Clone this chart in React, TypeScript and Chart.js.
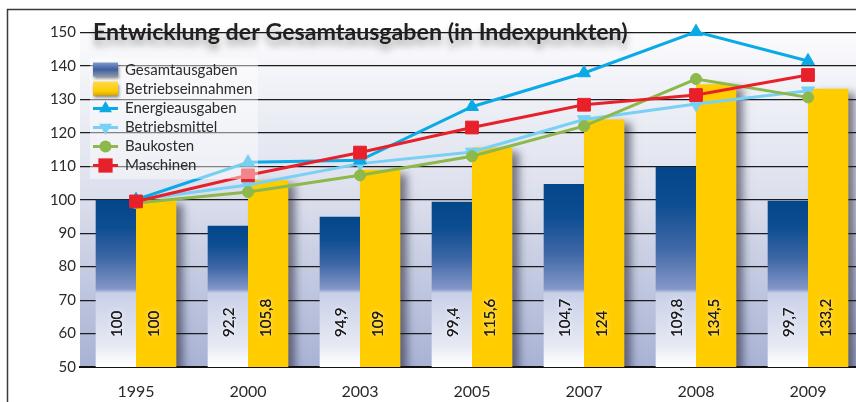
import React, { useEffect, useRef } from 'react';
import { Chart, registerables } from 'chart.js';

Chart.register(...registerables);

const categories = ['1995', '2000', '2003', '2005', '2007', '2008', '2009'];
const gesamtausgaben = [100, 92.2, 94.9, 99.4, 104.7, 109.8, 99.7];
const betriebseinnahmen = [100, 105.8, 109, 115.6, 124, 134.5, 133.2];
const energieausgaben = [100, 111.2, 111.8, 127.8, 137.9, 150.2, 141.5];
const betriebsmittel = [100, 104.4, 110.8, 114.3, 124, 128.6, 132.6];
const baukosten = [99, 102.3, 107.3, 113, 122, 136.1, 130.6];
const maschinen = [99.5, 107.3, 114.1, 121.6, 128.4, 131.3, 137.3];
const yMin = 50;
const yMax = 150;
const yStep = 10;
const titleText = 'Entwicklung der Gesamtausgaben (in Indexpunkten)';

const FONT = 'Lato, "Open Sans", sans-serif';

function fmt(v: number) {
  return String(v).replace('.', ',');
}

function drawMarker(ctx: CanvasRenderingContext2D, style: string, rotation: number, x: number, y: number, r: number, color: string) {
  ctx.save();
  ctx.fillStyle = color;
  ctx.beginPath();
  if (style === 'triangle') {
    const s = rotation === 180 ? -1 : 1;
    ctx.moveTo(x, y - s * r);
    ctx.lineTo(x + r * 0.866, y + s * r / 2);
    ctx.lineTo(x - r * 0.866, y + s * r / 2);
    ctx.closePath();
  } else if (style === 'circle') {
    ctx.arc(x, y, r * 0.8, 0, Math.PI * 2);
  } else {
    const h = r * 0.95;
    ctx.rect(x - h, y - h, 2 * h, 2 * h);
  }
  ctx.fill();
  ctx.restore();
}

const decoPlugin = {
  id: 'deco',
  beforeDraw(chart: any) {
    const { ctx, chartArea: a, width, height } = chart;
    ctx.save();
    ctx.fillStyle = '#ffffff';
    ctx.fillRect(0, 0, width, height);
    const g = ctx.createLinearGradient(0, a.top, 0, a.bottom);
    g.addColorStop(0, '#fbfbfd');
    g.addColorStop(0.45, '#dfe2ee');
    g.addColorStop(1, '#a8b2d4');
    ctx.fillStyle = g;
    ctx.fillRect(a.left, a.top, a.right - a.left, a.bottom - a.top);
    ctx.strokeStyle = '#3a3a3a';
    ctx.lineWidth = 1.5;
    ctx.beginPath();
    ctx.moveTo(7.5, height + 5);
    ctx.lineTo(7.5, 9.5);
    ctx.lineTo(width + 5, 9.5);
    ctx.stroke();
    ctx.restore();
  },
  beforeDatasetDraw(chart: any, args: any) {
    const ds = chart.data.datasets[args.index];
    if (ds.type === 'bar') {
      const ctx = chart.ctx;
      ctx.save();
      if (args.index === 1) {
        ctx.shadowColor = 'rgba(30,30,50,0.55)';
        ctx.shadowBlur = 8;
        ctx.shadowOffsetX = 7;
        ctx.shadowOffsetY = 4;
      }
    }
  },
  afterDatasetDraw(chart: any, args: any) {
    const ds = chart.data.datasets[args.index];
    if (ds.type === 'bar') chart.ctx.restore();
  },
  afterDatasetsDraw(chart: any) {
    const { ctx, chartArea: a } = chart;
    // value labels inside bars
    chart.data.datasets.forEach((ds: any, i: number) => {
      if (ds.type !== 'bar') return;
      const meta = chart.getDatasetMeta(i);
      meta.data.forEach((el: any, j: number) => {
        const { x } = el.getProps(['x'], true);
        ctx.save();
        ctx.translate(x + (i === 1 ? -2 : 1), a.bottom - 30);
        ctx.rotate(-Math.PI / 2);
        ctx.font = `15px ${FONT}`;
        ctx.textAlign = 'left';
        ctx.textBaseline = 'middle';
        ctx.shadowColor = i === 1 ? 'rgba(255,250,220,0.95)' : 'rgba(255,255,255,0.95)';
        ctx.shadowBlur = 5;
        ctx.fillStyle = '#1e1e1e';
        ctx.fillText(fmt(ds.data[j]), 0, 0);
        ctx.shadowBlur = 0;
        ctx.fillText(fmt(ds.data[j]), 0, 0);
        ctx.restore();
      });
    });

    // legend
    ctx.save();
    ctx.fillStyle = 'rgba(255,255,255,0.45)';
    ctx.fillRect(90, 58, 168, 121);
    const rowY0 = 70.5;
    const rowStep = 19;
    chart.data.datasets.forEach((ds: any, i: number) => {
      const y = rowY0 + i * rowStep;
      if (ds.type === 'bar') {
        ctx.save();
        ctx.shadowColor = 'rgba(0,0,0,0.45)';
        ctx.shadowBlur = 3;
        ctx.shadowOffsetX = 1;
        ctx.shadowOffsetY = 2;
        let fill: any;
        if (i === 0) {
          fill = ctx.createLinearGradient(0, y - 8, 0, y + 6);
          fill.addColorStop(0, '#7c98d0');
          fill.addColorStop(0.5, '#3f5f9e');
          fill.addColorStop(1, '#8a94ad');
        } else {
          fill = ctx.createLinearGradient(0, y - 8, 0, y + 6);
          fill.addColorStop(0, '#ffd84a');
          fill.addColorStop(0.7, '#ffcc00');
          fill.addColorStop(1, '#d9a800');
        }
        ctx.fillStyle = fill;
        ctx.fillRect(93, y - 8, 25, 14);
        ctx.restore();
      } else {
        ctx.strokeStyle = ds.borderColor;
        ctx.lineWidth = 3;
        ctx.beginPath();
        ctx.moveTo(93, y);
        ctx.lineTo(118, y);
        ctx.stroke();
        drawMarker(ctx, ds.pointStyle, ds.pointRotation || 0, 105.5, y, 7.5, ds.borderColor);
      }
      ctx.font = `15px ${FONT}`;
      ctx.fillStyle = '#2b2b2b';
      ctx.textAlign = 'left';
      ctx.textBaseline = 'middle';
      ctx.fillText(ds.label, 125, y);
    });
    ctx.restore();

    // title
    ctx.save();
    let size = 22;
    ctx.font = `700 ${size}px ${FONT}`;
    const w = ctx.measureText(titleText).width;
    size = Math.min(24, size * 535 / w);
    ctx.font = `700 ${size}px ${FONT}`;
    ctx.textAlign = 'left';
    ctx.textBaseline = 'alphabetic';
    ctx.shadowColor = 'rgba(0,0,0,0.35)';
    ctx.shadowBlur = 7;
    ctx.shadowOffsetY = 6;
    ctx.fillStyle = '#231f20';
    ctx.fillText(titleText, 93, 40);
    ctx.restore();
  },
};

export default function App() {
  const ref = useRef<HTMLCanvasElement>(null);
  useEffect(() => {
    const canvas = ref.current!;
    const blueFill = (c: any) => {
      const chart = c.chart;
      const a = chart.chartArea;
      if (!a || c.type !== 'data') return '#1d4f91';
      const top = chart.scales.y.getPixelForValue(c.raw as number);
      const bottom = a.bottom;
      const span = bottom - top;
      const g = chart.ctx.createLinearGradient(0, top, 0, bottom);
      const f = (py: number) => Math.min(1, Math.max(0, (py - top) / span));
      g.addColorStop(0, '#03468a');
      g.addColorStop(f(top + 0.3 * (bottom - 77 - top)), '#0d4d92');
      g.addColorStop(f(top + 0.65 * (bottom - 77 - top)), '#3e67a6');
      g.addColorStop(f(bottom - 78), '#8497c8');
      g.addColorStop(f(bottom - 74), '#c9d1e8');
      g.addColorStop(f(bottom - 22), '#e6e9f3');
      g.addColorStop(f(bottom - 9), '#f6f7fb');
      g.addColorStop(1, '#ffffff');
      return g;
    };
    const chart = new Chart(canvas, {
      type: 'bar',
      data: {
        labels: categories,
        datasets: [
          {
            type: 'bar',
            label: 'Gesamtausgaben',
            data: gesamtausgaben,
            backgroundColor: blueFill,
            borderWidth: 0,
            order: 10,
            categoryPercentage: 0.72,
            barPercentage: 1,
          },
          {
            type: 'bar',
            label: 'Betriebseinnahmen',
            data: betriebseinnahmen,
            backgroundColor: '#ffcc00',
            borderWidth: 0,
            order: 10,
            categoryPercentage: 0.72,
            barPercentage: 1,
          },
          {
            type: 'line',
            label: 'Energieausgaben',
            data: energieausgaben,
            borderColor: '#0aaae6',
            backgroundColor: '#0aaae6',
            pointBackgroundColor: '#0aaae6',
            pointBorderColor: '#0aaae6',
            borderWidth: 3,
            pointStyle: 'triangle',
            pointRadius: 7.5,
            pointBorderWidth: 1,
            tension: 0,
            clip: false,
            order: 2,
          },
          {
            type: 'line',
            label: 'Betriebsmittel',
            data: betriebsmittel,
            borderColor: '#78d0f5',
            backgroundColor: '#78d0f5',
            pointBackgroundColor: '#78d0f5',
            pointBorderColor: '#78d0f5',
            borderWidth: 3,
            pointStyle: 'triangle',
            pointRotation: 180,
            pointRadius: 7.5,
            pointBorderWidth: 1,
            tension: 0,
            clip: false,
            order: 4,
          },
          {
            type: 'line',
            label: 'Baukosten',
            data: baukosten,
            borderColor: '#8cb84c',
            backgroundColor: '#8cb84c',
            pointBackgroundColor: '#8cb84c',
            pointBorderColor: '#8cb84c',
            borderWidth: 3,
            pointStyle: 'circle',
            pointRadius: 5.5,
            pointBorderWidth: 1,
            tension: 0,
            clip: false,
            order: 3,
          },
          {
            type: 'line',
            label: 'Maschinen',
            data: maschinen,
            borderColor: '#e8202a',
            backgroundColor: '#e8202a',
            pointBackgroundColor: '#e8202a',
            pointBorderColor: '#e8202a',
            borderWidth: 3,
            pointStyle: 'rect',
            pointRadius: 9,
            pointBorderWidth: 1,
            tension: 0,
            clip: false,
            order: 1,
          },
        ],
      },
      options: {
        animation: false,
        responsive: false,
        devicePixelRatio: 1,
        layout: { padding: { top: 32.5, right: 16, left: 0, bottom: 0 } },
        plugins: {
          legend: { display: false },
          tooltip: { enabled: false },
          title: { display: false },
        },
        scales: {
          x: {
            offset: true,
            grid: { display: false, drawTicks: false },
            border: { display: true, color: '#111111', width: 2 },
            ticks: { color: '#2a2a2a', font: { family: FONT, size: 16 }, padding: 15 },
            afterFit: (s: any) => {
              s.height = 35;
            },
          },
          y: {
            min: yMin,
            max: yMax,
            ticks: { stepSize: yStep, color: '#2a2a2a', font: { family: FONT, size: 15 }, padding: 4 },
            grid: { color: '#1c1c1c', lineWidth: 1.2, drawTicks: false },
            border: { display: false },
            afterFit: (s: any) => {
              s.width = 80;
            },
          },
        },
      },
      plugins: [decoPlugin],
    } as any);
    return () => chart.destroy();
  }, []);
  return (
    <div style={{ position: 'fixed', left: 0, top: 0, width: 856, height: 402, overflow: 'hidden', background: '#fff' }}>
      <canvas ref={ref} width={880} height={402} style={{ display: 'block' }} />
    </div>
  );
}
